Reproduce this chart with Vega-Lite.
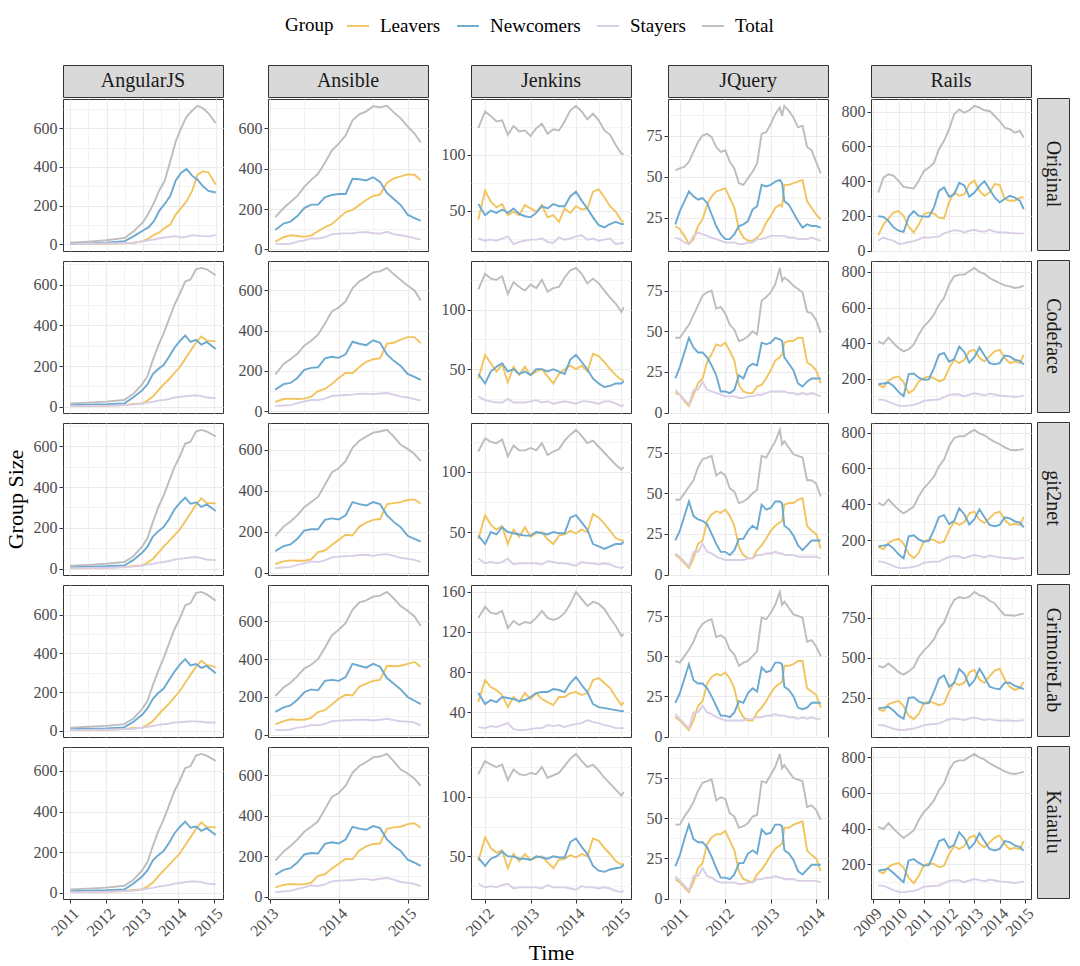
{
"$schema":"https://vega.github.io/schema/vega-lite/v6.json",
"padding":{"left":3,"top":14,"right":5,"bottom":5},
"config":{
 "font":"Liberation Serif",
 "view":{"stroke":"#333333","strokeWidth":1},
 "axis":{"domain":false,"gridColor":"#EBEBEB","tickColor":"#333333","tickSize":4,"tickWidth":1,"labelColor":"#4D4D4D","labelFontSize":16,"labelPadding":2,"labelOverlap":false,"labelFlush":false,"labelBound":false,"titleFontSize":22,"titleColor":"#000000","titleFontWeight":"normal"},
 "line":{"strokeWidth":1.9},
 "range":{"category":["#F2C45E","#6AA9D1","#D9CDE8","#BDBDBD"]},
 "legend":{"orient":"none","legendX":222,"legendY":-51,"direction":"horizontal","titleOrient":"left","titleFontSize":19,"titleFontWeight":"normal","titleColor":"#000000","titlePadding":12,"labelFontSize":19,"labelColor":"#000000","labelOffset":10,"columnPadding":12,"symbolType":"stroke","symbolSize":484,"symbolStrokeWidth":2}
},
"spacing":-7,
"hconcat":[
{"spacing":11,"hconcat":[
 {"spacing":0,"vconcat":[
  {"width":160,"height":32,"view":{"fill":"#D9D9D9","stroke":"#333333"},"data":{"values":[{"label":"AngularJS"}]},"mark":{"type":"text","fontSize":20,"color":"#1A1A1A"},"encoding":{"text":{"field":"label","type":"nominal"}}},
  {"spacing":10,"bounds":"flush","vconcat":[
   {"width":160,"height":152,"data":{"name":"AngularJS_Original"},"transform":[{"fold":["Leavers","Newcomers","Stayers","Total"],"as":["Group","Size"]}],"mark":"line","encoding":{"x":{"field":"t","type":"quantitative","scale":{"zero":false,"nice":false,"padding":7.3},"axis":{"values":[2011,2011.5,2012,2012.5,2013,2013.5,2014,2014.5,2015],"labels":false,"ticks":false,"title":null,"gridWidth":{"condition":{"test":"datum.value % 1 != 0","value":0.6},"value":1.1}}},"y":{"field":"Size","type":"quantitative","scale":{"zero":false,"nice":false,"padding":6.9},"axis":{"values":[0,100,200,300,400,500,600,700],"title":null,"format":"d","labelExpr":"datum.value % 200 ? '' : datum.label","tickOpacity":{"condition":{"test":"datum.value % 200 != 0","value":0},"value":1},"gridWidth":{"condition":{"test":"datum.value % 200 != 0","value":0.6},"value":1.1}}},"color":{"field":"Group","type":"nominal","title":"Group"}}},
   {"width":160,"height":152,"data":{"name":"AngularJS_Codeface"},"transform":[{"fold":["Leavers","Newcomers","Stayers","Total"],"as":["Group","Size"]}],"mark":"line","encoding":{"x":{"field":"t","type":"quantitative","scale":{"zero":false,"nice":false,"padding":7.3},"axis":{"values":[2011,2011.5,2012,2012.5,2013,2013.5,2014,2014.5,2015],"labels":false,"ticks":false,"title":null,"gridWidth":{"condition":{"test":"datum.value % 1 != 0","value":0.6},"value":1.1}}},"y":{"field":"Size","type":"quantitative","scale":{"zero":false,"nice":false,"padding":6.9},"axis":{"values":[0,100,200,300,400,500,600,700],"title":null,"format":"d","labelExpr":"datum.value % 200 ? '' : datum.label","tickOpacity":{"condition":{"test":"datum.value % 200 != 0","value":0},"value":1},"gridWidth":{"condition":{"test":"datum.value % 200 != 0","value":0.6},"value":1.1}}},"color":{"field":"Group","type":"nominal","title":"Group"}}},
   {"width":160,"height":152,"data":{"name":"AngularJS_git2net"},"transform":[{"fold":["Leavers","Newcomers","Stayers","Total"],"as":["Group","Size"]}],"mark":"line","encoding":{"x":{"field":"t","type":"quantitative","scale":{"zero":false,"nice":false,"padding":7.3},"axis":{"values":[2011,2011.5,2012,2012.5,2013,2013.5,2014,2014.5,2015],"labels":false,"ticks":false,"title":null,"gridWidth":{"condition":{"test":"datum.value % 1 != 0","value":0.6},"value":1.1}}},"y":{"field":"Size","type":"quantitative","scale":{"zero":false,"nice":false,"padding":6.9},"axis":{"values":[0,100,200,300,400,500,600,700],"title":"Group Size","titlePadding":6,"format":"d","labelExpr":"datum.value % 200 ? '' : datum.label","tickOpacity":{"condition":{"test":"datum.value % 200 != 0","value":0},"value":1},"gridWidth":{"condition":{"test":"datum.value % 200 != 0","value":0.6},"value":1.1}}},"color":{"field":"Group","type":"nominal","title":"Group"}}},
   {"width":160,"height":152,"data":{"name":"AngularJS_GrimoireLab"},"transform":[{"fold":["Leavers","Newcomers","Stayers","Total"],"as":["Group","Size"]}],"mark":"line","encoding":{"x":{"field":"t","type":"quantitative","scale":{"zero":false,"nice":false,"padding":7.3},"axis":{"values":[2011,2011.5,2012,2012.5,2013,2013.5,2014,2014.5,2015],"labels":false,"ticks":false,"title":null,"gridWidth":{"condition":{"test":"datum.value % 1 != 0","value":0.6},"value":1.1}}},"y":{"field":"Size","type":"quantitative","scale":{"zero":false,"nice":false,"padding":6.9},"axis":{"values":[0,100,200,300,400,500,600,700],"title":null,"format":"d","labelExpr":"datum.value % 200 ? '' : datum.label","tickOpacity":{"condition":{"test":"datum.value % 200 != 0","value":0},"value":1},"gridWidth":{"condition":{"test":"datum.value % 200 != 0","value":0.6},"value":1.1}}},"color":{"field":"Group","type":"nominal","title":"Group"}}},
   {"width":160,"height":152,"data":{"name":"AngularJS_Kaiaulu"},"transform":[{"fold":["Leavers","Newcomers","Stayers","Total"],"as":["Group","Size"]}],"mark":"line","encoding":{"x":{"field":"t","type":"quantitative","scale":{"zero":false,"nice":false,"padding":7.3},"axis":{"values":[2011,2011.5,2012,2012.5,2013,2013.5,2014,2014.5,2015],"format":"d","labelExpr":"datum.value % 1 ? '' : datum.label","labelAngle":-45,"labelAlign":"right","labelBaseline":"top","title":null,"tickOpacity":{"condition":{"test":"datum.value % 1 != 0","value":0},"value":1},"gridWidth":{"condition":{"test":"datum.value % 1 != 0","value":0.6},"value":1.1}}},"y":{"field":"Size","type":"quantitative","scale":{"zero":false,"nice":false,"padding":6.9},"axis":{"values":[0,100,200,300,400,500,600,700],"title":null,"format":"d","labelExpr":"datum.value % 200 ? '' : datum.label","tickOpacity":{"condition":{"test":"datum.value % 200 != 0","value":0},"value":1},"gridWidth":{"condition":{"test":"datum.value % 200 != 0","value":0.6},"value":1.1}}},"color":{"field":"Group","type":"nominal","title":"Group"}}}
  ]}
 ]},
 {"spacing":0,"vconcat":[
  {"width":160,"height":32,"view":{"fill":"#D9D9D9","stroke":"#333333"},"data":{"values":[{"label":"Ansible"}]},"mark":{"type":"text","fontSize":20,"color":"#1A1A1A"},"encoding":{"text":{"field":"label","type":"nominal"}}},
  {"spacing":10,"bounds":"flush","vconcat":[
   {"width":160,"height":152,"data":{"name":"Ansible_Original"},"transform":[{"fold":["Leavers","Newcomers","Stayers","Total"],"as":["Group","Size"]}],"mark":"line","encoding":{"x":{"field":"t","type":"quantitative","scale":{"zero":false,"nice":false,"padding":7.3},"axis":{"values":[2013,2013.5,2014,2014.5,2015],"labels":false,"ticks":false,"title":null,"gridWidth":{"condition":{"test":"datum.value % 1 != 0","value":0.6},"value":1.1}}},"y":{"field":"Size","type":"quantitative","scale":{"zero":false,"nice":false,"padding":6.9},"axis":{"values":[0,100,200,300,400,500,600,700],"title":null,"format":"d","labelExpr":"datum.value % 200 ? '' : datum.label","tickOpacity":{"condition":{"test":"datum.value % 200 != 0","value":0},"value":1},"gridWidth":{"condition":{"test":"datum.value % 200 != 0","value":0.6},"value":1.1}}},"color":{"field":"Group","type":"nominal","title":"Group"}}},
   {"width":160,"height":152,"data":{"name":"Ansible_Codeface"},"transform":[{"fold":["Leavers","Newcomers","Stayers","Total"],"as":["Group","Size"]}],"mark":"line","encoding":{"x":{"field":"t","type":"quantitative","scale":{"zero":false,"nice":false,"padding":7.3},"axis":{"values":[2013,2013.5,2014,2014.5,2015],"labels":false,"ticks":false,"title":null,"gridWidth":{"condition":{"test":"datum.value % 1 != 0","value":0.6},"value":1.1}}},"y":{"field":"Size","type":"quantitative","scale":{"zero":false,"nice":false,"padding":6.9},"axis":{"values":[0,100,200,300,400,500,600,700],"title":null,"format":"d","labelExpr":"datum.value % 200 ? '' : datum.label","tickOpacity":{"condition":{"test":"datum.value % 200 != 0","value":0},"value":1},"gridWidth":{"condition":{"test":"datum.value % 200 != 0","value":0.6},"value":1.1}}},"color":{"field":"Group","type":"nominal","title":"Group"}}},
   {"width":160,"height":152,"data":{"name":"Ansible_git2net"},"transform":[{"fold":["Leavers","Newcomers","Stayers","Total"],"as":["Group","Size"]}],"mark":"line","encoding":{"x":{"field":"t","type":"quantitative","scale":{"zero":false,"nice":false,"padding":7.3},"axis":{"values":[2013,2013.5,2014,2014.5,2015],"labels":false,"ticks":false,"title":null,"gridWidth":{"condition":{"test":"datum.value % 1 != 0","value":0.6},"value":1.1}}},"y":{"field":"Size","type":"quantitative","scale":{"zero":false,"nice":false,"padding":6.9},"axis":{"values":[0,100,200,300,400,500,600,700],"title":null,"format":"d","labelExpr":"datum.value % 200 ? '' : datum.label","tickOpacity":{"condition":{"test":"datum.value % 200 != 0","value":0},"value":1},"gridWidth":{"condition":{"test":"datum.value % 200 != 0","value":0.6},"value":1.1}}},"color":{"field":"Group","type":"nominal","title":"Group"}}},
   {"width":160,"height":152,"data":{"name":"Ansible_GrimoireLab"},"transform":[{"fold":["Leavers","Newcomers","Stayers","Total"],"as":["Group","Size"]}],"mark":"line","encoding":{"x":{"field":"t","type":"quantitative","scale":{"zero":false,"nice":false,"padding":7.3},"axis":{"values":[2013,2013.5,2014,2014.5,2015],"labels":false,"ticks":false,"title":null,"gridWidth":{"condition":{"test":"datum.value % 1 != 0","value":0.6},"value":1.1}}},"y":{"field":"Size","type":"quantitative","scale":{"zero":false,"nice":false,"padding":6.9},"axis":{"values":[0,100,200,300,400,500,600,700],"title":null,"format":"d","labelExpr":"datum.value % 200 ? '' : datum.label","tickOpacity":{"condition":{"test":"datum.value % 200 != 0","value":0},"value":1},"gridWidth":{"condition":{"test":"datum.value % 200 != 0","value":0.6},"value":1.1}}},"color":{"field":"Group","type":"nominal","title":"Group"}}},
   {"width":160,"height":152,"data":{"name":"Ansible_Kaiaulu"},"transform":[{"fold":["Leavers","Newcomers","Stayers","Total"],"as":["Group","Size"]}],"mark":"line","encoding":{"x":{"field":"t","type":"quantitative","scale":{"zero":false,"nice":false,"padding":7.3},"axis":{"values":[2013,2013.5,2014,2014.5,2015],"format":"d","labelExpr":"datum.value % 1 ? '' : datum.label","labelAngle":-45,"labelAlign":"right","labelBaseline":"top","title":null,"tickOpacity":{"condition":{"test":"datum.value % 1 != 0","value":0},"value":1},"gridWidth":{"condition":{"test":"datum.value % 1 != 0","value":0.6},"value":1.1}}},"y":{"field":"Size","type":"quantitative","scale":{"zero":false,"nice":false,"padding":6.9},"axis":{"values":[0,100,200,300,400,500,600,700],"title":null,"format":"d","labelExpr":"datum.value % 200 ? '' : datum.label","tickOpacity":{"condition":{"test":"datum.value % 200 != 0","value":0},"value":1},"gridWidth":{"condition":{"test":"datum.value % 200 != 0","value":0.6},"value":1.1}}},"color":{"field":"Group","type":"nominal","title":"Group"}}}
  ]}
 ]},
 {"spacing":0,"vconcat":[
  {"width":160,"height":32,"view":{"fill":"#D9D9D9","stroke":"#333333"},"data":{"values":[{"label":"Jenkins"}]},"mark":{"type":"text","fontSize":20,"color":"#1A1A1A"},"encoding":{"text":{"field":"label","type":"nominal"}}},
  {"spacing":10,"bounds":"flush","vconcat":[
   {"width":160,"height":152,"data":{"name":"Jenkins_Original"},"transform":[{"fold":["Leavers","Newcomers","Stayers","Total"],"as":["Group","Size"]}],"mark":"line","encoding":{"x":{"field":"t","type":"quantitative","scale":{"zero":false,"nice":false,"padding":7.3},"axis":{"values":[2012,2012.5,2013,2013.5,2014,2014.5,2015],"labels":false,"ticks":false,"title":null,"gridWidth":{"condition":{"test":"datum.value % 1 != 0","value":0.6},"value":1.1}}},"y":{"field":"Size","type":"quantitative","scale":{"zero":false,"nice":false,"padding":6.9},"axis":{"values":[25,50,75,100,125],"title":null,"format":"d","labelExpr":"datum.value % 50 ? '' : datum.label","tickOpacity":{"condition":{"test":"datum.value % 50 != 0","value":0},"value":1},"gridWidth":{"condition":{"test":"datum.value % 50 != 0","value":0.6},"value":1.1}}},"color":{"field":"Group","type":"nominal","title":"Group"}}},
   {"width":160,"height":152,"data":{"name":"Jenkins_Codeface"},"transform":[{"fold":["Leavers","Newcomers","Stayers","Total"],"as":["Group","Size"]}],"mark":"line","encoding":{"x":{"field":"t","type":"quantitative","scale":{"zero":false,"nice":false,"padding":7.3},"axis":{"values":[2012,2012.5,2013,2013.5,2014,2014.5,2015],"labels":false,"ticks":false,"title":null,"gridWidth":{"condition":{"test":"datum.value % 1 != 0","value":0.6},"value":1.1}}},"y":{"field":"Size","type":"quantitative","scale":{"zero":false,"nice":false,"padding":6.9},"axis":{"values":[25,50,75,100,125],"title":null,"format":"d","labelExpr":"datum.value % 50 ? '' : datum.label","tickOpacity":{"condition":{"test":"datum.value % 50 != 0","value":0},"value":1},"gridWidth":{"condition":{"test":"datum.value % 50 != 0","value":0.6},"value":1.1}}},"color":{"field":"Group","type":"nominal","title":"Group"}}},
   {"width":160,"height":152,"data":{"name":"Jenkins_git2net"},"transform":[{"fold":["Leavers","Newcomers","Stayers","Total"],"as":["Group","Size"]}],"mark":"line","encoding":{"x":{"field":"t","type":"quantitative","scale":{"zero":false,"nice":false,"padding":7.3},"axis":{"values":[2012,2012.5,2013,2013.5,2014,2014.5,2015],"labels":false,"ticks":false,"title":null,"gridWidth":{"condition":{"test":"datum.value % 1 != 0","value":0.6},"value":1.1}}},"y":{"field":"Size","type":"quantitative","scale":{"zero":false,"nice":false,"padding":6.9},"axis":{"values":[25,50,75,100,125],"title":null,"format":"d","labelExpr":"datum.value % 50 ? '' : datum.label","tickOpacity":{"condition":{"test":"datum.value % 50 != 0","value":0},"value":1},"gridWidth":{"condition":{"test":"datum.value % 50 != 0","value":0.6},"value":1.1}}},"color":{"field":"Group","type":"nominal","title":"Group"}}},
   {"width":160,"height":152,"data":{"name":"Jenkins_GrimoireLab"},"transform":[{"fold":["Leavers","Newcomers","Stayers","Total"],"as":["Group","Size"]}],"mark":"line","encoding":{"x":{"field":"t","type":"quantitative","scale":{"zero":false,"nice":false,"padding":7.3},"axis":{"values":[2012,2012.5,2013,2013.5,2014,2014.5,2015],"labels":false,"ticks":false,"title":null,"gridWidth":{"condition":{"test":"datum.value % 1 != 0","value":0.6},"value":1.1}}},"y":{"field":"Size","type":"quantitative","scale":{"zero":false,"nice":false,"padding":6.9},"axis":{"values":[20,40,60,80,100,120,140,160],"title":null,"format":"d","labelExpr":"datum.value % 40 ? '' : datum.label","tickOpacity":{"condition":{"test":"datum.value % 40 != 0","value":0},"value":1},"gridWidth":{"condition":{"test":"datum.value % 40 != 0","value":0.6},"value":1.1}}},"color":{"field":"Group","type":"nominal","title":"Group"}}},
   {"width":160,"height":152,"data":{"name":"Jenkins_Kaiaulu"},"transform":[{"fold":["Leavers","Newcomers","Stayers","Total"],"as":["Group","Size"]}],"mark":"line","encoding":{"x":{"field":"t","type":"quantitative","scale":{"zero":false,"nice":false,"padding":7.3},"axis":{"values":[2012,2012.5,2013,2013.5,2014,2014.5,2015],"format":"d","labelExpr":"datum.value % 1 ? '' : datum.label","labelAngle":-45,"labelAlign":"right","labelBaseline":"top","title":"Time","titlePadding":4,"tickOpacity":{"condition":{"test":"datum.value % 1 != 0","value":0},"value":1},"gridWidth":{"condition":{"test":"datum.value % 1 != 0","value":0.6},"value":1.1}}},"y":{"field":"Size","type":"quantitative","scale":{"zero":false,"nice":false,"padding":6.9},"axis":{"values":[25,50,75,100,125],"title":null,"format":"d","labelExpr":"datum.value % 50 ? '' : datum.label","tickOpacity":{"condition":{"test":"datum.value % 50 != 0","value":0},"value":1},"gridWidth":{"condition":{"test":"datum.value % 50 != 0","value":0.6},"value":1.1}}},"color":{"field":"Group","type":"nominal","title":"Group"}}}
  ]}
 ]},
 {"spacing":0,"vconcat":[
  {"width":160,"height":32,"view":{"fill":"#D9D9D9","stroke":"#333333"},"data":{"values":[{"label":"JQuery"}]},"mark":{"type":"text","fontSize":20,"color":"#1A1A1A"},"encoding":{"text":{"field":"label","type":"nominal"}}},
  {"spacing":10,"bounds":"flush","vconcat":[
   {"width":160,"height":152,"data":{"name":"JQuery_Original"},"transform":[{"fold":["Leavers","Newcomers","Stayers","Total"],"as":["Group","Size"]}],"mark":"line","encoding":{"x":{"field":"t","type":"quantitative","scale":{"zero":false,"nice":false,"padding":7.3},"axis":{"values":[2011,2011.5,2012,2012.5,2013,2013.5,2014],"labels":false,"ticks":false,"title":null,"gridWidth":{"condition":{"test":"datum.value % 1 != 0","value":0.6},"value":1.1}}},"y":{"field":"Size","type":"quantitative","scale":{"zero":false,"nice":false,"padding":6.9},"axis":{"values":[12.5,25,37.5,50,62.5,75,87.5],"title":null,"format":"d","labelExpr":"datum.value % 25 ? '' : datum.label","tickOpacity":{"condition":{"test":"datum.value % 25 != 0","value":0},"value":1},"gridWidth":{"condition":{"test":"datum.value % 25 != 0","value":0.6},"value":1.1}}},"color":{"field":"Group","type":"nominal","title":"Group"}}},
   {"width":160,"height":152,"data":{"name":"JQuery_Codeface"},"transform":[{"fold":["Leavers","Newcomers","Stayers","Total"],"as":["Group","Size"]}],"mark":"line","encoding":{"x":{"field":"t","type":"quantitative","scale":{"zero":false,"nice":false,"padding":7.3},"axis":{"values":[2011,2011.5,2012,2012.5,2013,2013.5,2014],"labels":false,"ticks":false,"title":null,"gridWidth":{"condition":{"test":"datum.value % 1 != 0","value":0.6},"value":1.1}}},"y":{"field":"Size","type":"quantitative","scale":{"zero":false,"nice":false,"padding":6.9},"axis":{"values":[0,12.5,25,37.5,50,62.5,75,87.5],"title":null,"format":"d","labelExpr":"datum.value % 25 ? '' : datum.label","tickOpacity":{"condition":{"test":"datum.value % 25 != 0","value":0},"value":1},"gridWidth":{"condition":{"test":"datum.value % 25 != 0","value":0.6},"value":1.1}}},"color":{"field":"Group","type":"nominal","title":"Group"}}},
   {"width":160,"height":152,"data":{"name":"JQuery_git2net"},"transform":[{"fold":["Leavers","Newcomers","Stayers","Total"],"as":["Group","Size"]}],"mark":"line","encoding":{"x":{"field":"t","type":"quantitative","scale":{"zero":false,"nice":false,"padding":7.3},"axis":{"values":[2011,2011.5,2012,2012.5,2013,2013.5,2014],"labels":false,"ticks":false,"title":null,"gridWidth":{"condition":{"test":"datum.value % 1 != 0","value":0.6},"value":1.1}}},"y":{"field":"Size","type":"quantitative","scale":{"zero":false,"nice":false,"padding":6.9},"axis":{"values":[0,12.5,25,37.5,50,62.5,75,87.5],"title":null,"format":"d","labelExpr":"datum.value % 25 ? '' : datum.label","tickOpacity":{"condition":{"test":"datum.value % 25 != 0","value":0},"value":1},"gridWidth":{"condition":{"test":"datum.value % 25 != 0","value":0.6},"value":1.1}}},"color":{"field":"Group","type":"nominal","title":"Group"}}},
   {"width":160,"height":152,"data":{"name":"JQuery_GrimoireLab"},"transform":[{"fold":["Leavers","Newcomers","Stayers","Total"],"as":["Group","Size"]}],"mark":"line","encoding":{"x":{"field":"t","type":"quantitative","scale":{"zero":false,"nice":false,"padding":7.3},"axis":{"values":[2011,2011.5,2012,2012.5,2013,2013.5,2014],"labels":false,"ticks":false,"title":null,"gridWidth":{"condition":{"test":"datum.value % 1 != 0","value":0.6},"value":1.1}}},"y":{"field":"Size","type":"quantitative","scale":{"zero":false,"nice":false,"padding":6.9},"axis":{"values":[0,12.5,25,37.5,50,62.5,75,87.5],"title":null,"format":"d","labelExpr":"datum.value % 25 ? '' : datum.label","tickOpacity":{"condition":{"test":"datum.value % 25 != 0","value":0},"value":1},"gridWidth":{"condition":{"test":"datum.value % 25 != 0","value":0.6},"value":1.1}}},"color":{"field":"Group","type":"nominal","title":"Group"}}},
   {"width":160,"height":152,"data":{"name":"JQuery_Kaiaulu"},"transform":[{"fold":["Leavers","Newcomers","Stayers","Total"],"as":["Group","Size"]}],"mark":"line","encoding":{"x":{"field":"t","type":"quantitative","scale":{"zero":false,"nice":false,"padding":7.3},"axis":{"values":[2011,2011.5,2012,2012.5,2013,2013.5,2014],"format":"d","labelExpr":"datum.value % 1 ? '' : datum.label","labelAngle":-45,"labelAlign":"right","labelBaseline":"top","title":null,"tickOpacity":{"condition":{"test":"datum.value % 1 != 0","value":0},"value":1},"gridWidth":{"condition":{"test":"datum.value % 1 != 0","value":0.6},"value":1.1}}},"y":{"field":"Size","type":"quantitative","scale":{"zero":false,"nice":false,"padding":6.9},"axis":{"values":[0,12.5,25,37.5,50,62.5,75,87.5],"title":null,"format":"d","labelExpr":"datum.value % 25 ? '' : datum.label","tickOpacity":{"condition":{"test":"datum.value % 25 != 0","value":0},"value":1},"gridWidth":{"condition":{"test":"datum.value % 25 != 0","value":0.6},"value":1.1}}},"color":{"field":"Group","type":"nominal","title":"Group"}}}
  ]}
 ]},
 {"spacing":0,"vconcat":[
  {"width":160,"height":32,"view":{"fill":"#D9D9D9","stroke":"#333333"},"data":{"values":[{"label":"Rails"}]},"mark":{"type":"text","fontSize":20,"color":"#1A1A1A"},"encoding":{"text":{"field":"label","type":"nominal"}}},
  {"spacing":10,"bounds":"flush","vconcat":[
   {"width":160,"height":152,"data":{"name":"Rails_Original"},"transform":[{"fold":["Leavers","Newcomers","Stayers","Total"],"as":["Group","Size"]}],"mark":"line","encoding":{"x":{"field":"t","type":"quantitative","scale":{"zero":false,"nice":false,"padding":7.3},"axis":{"values":[2009,2009.5,2010,2010.5,2011,2011.5,2012,2012.5,2013,2013.5,2014,2014.5,2015],"labels":false,"ticks":false,"title":null,"gridWidth":{"condition":{"test":"datum.value % 1 != 0","value":0.6},"value":1.1}}},"y":{"field":"Size","type":"quantitative","scale":{"zero":false,"nice":false,"padding":6.9},"axis":{"values":[0,100,200,300,400,500,600,700,800],"title":null,"format":"d","labelExpr":"datum.value % 200 ? '' : datum.label","tickOpacity":{"condition":{"test":"datum.value % 200 != 0","value":0},"value":1},"gridWidth":{"condition":{"test":"datum.value % 200 != 0","value":0.6},"value":1.1}}},"color":{"field":"Group","type":"nominal","title":"Group"}}},
   {"width":160,"height":152,"data":{"name":"Rails_Codeface"},"transform":[{"fold":["Leavers","Newcomers","Stayers","Total"],"as":["Group","Size"]}],"mark":"line","encoding":{"x":{"field":"t","type":"quantitative","scale":{"zero":false,"nice":false,"padding":7.3},"axis":{"values":[2009,2009.5,2010,2010.5,2011,2011.5,2012,2012.5,2013,2013.5,2014,2014.5,2015],"labels":false,"ticks":false,"title":null,"gridWidth":{"condition":{"test":"datum.value % 1 != 0","value":0.6},"value":1.1}}},"y":{"field":"Size","type":"quantitative","scale":{"zero":false,"nice":false,"padding":6.9},"axis":{"values":[100,200,300,400,500,600,700,800],"title":null,"format":"d","labelExpr":"datum.value % 200 ? '' : datum.label","tickOpacity":{"condition":{"test":"datum.value % 200 != 0","value":0},"value":1},"gridWidth":{"condition":{"test":"datum.value % 200 != 0","value":0.6},"value":1.1}}},"color":{"field":"Group","type":"nominal","title":"Group"}}},
   {"width":160,"height":152,"data":{"name":"Rails_git2net"},"transform":[{"fold":["Leavers","Newcomers","Stayers","Total"],"as":["Group","Size"]}],"mark":"line","encoding":{"x":{"field":"t","type":"quantitative","scale":{"zero":false,"nice":false,"padding":7.3},"axis":{"values":[2009,2009.5,2010,2010.5,2011,2011.5,2012,2012.5,2013,2013.5,2014,2014.5,2015],"labels":false,"ticks":false,"title":null,"gridWidth":{"condition":{"test":"datum.value % 1 != 0","value":0.6},"value":1.1}}},"y":{"field":"Size","type":"quantitative","scale":{"zero":false,"nice":false,"padding":6.9},"axis":{"values":[100,200,300,400,500,600,700,800],"title":null,"format":"d","labelExpr":"datum.value % 200 ? '' : datum.label","tickOpacity":{"condition":{"test":"datum.value % 200 != 0","value":0},"value":1},"gridWidth":{"condition":{"test":"datum.value % 200 != 0","value":0.6},"value":1.1}}},"color":{"field":"Group","type":"nominal","title":"Group"}}},
   {"width":160,"height":152,"data":{"name":"Rails_GrimoireLab"},"transform":[{"fold":["Leavers","Newcomers","Stayers","Total"],"as":["Group","Size"]}],"mark":"line","encoding":{"x":{"field":"t","type":"quantitative","scale":{"zero":false,"nice":false,"padding":7.3},"axis":{"values":[2009,2009.5,2010,2010.5,2011,2011.5,2012,2012.5,2013,2013.5,2014,2014.5,2015],"labels":false,"ticks":false,"title":null,"gridWidth":{"condition":{"test":"datum.value % 1 != 0","value":0.6},"value":1.1}}},"y":{"field":"Size","type":"quantitative","scale":{"zero":false,"nice":false,"padding":6.9},"axis":{"values":[125,250,375,500,625,750,875],"title":null,"format":"d","labelExpr":"datum.value % 250 ? '' : datum.label","tickOpacity":{"condition":{"test":"datum.value % 250 != 0","value":0},"value":1},"gridWidth":{"condition":{"test":"datum.value % 250 != 0","value":0.6},"value":1.1}}},"color":{"field":"Group","type":"nominal","title":"Group"}}},
   {"width":160,"height":152,"data":{"name":"Rails_Kaiaulu"},"transform":[{"fold":["Leavers","Newcomers","Stayers","Total"],"as":["Group","Size"]}],"mark":"line","encoding":{"x":{"field":"t","type":"quantitative","scale":{"zero":false,"nice":false,"padding":7.3},"axis":{"values":[2009,2009.5,2010,2010.5,2011,2011.5,2012,2012.5,2013,2013.5,2014,2014.5,2015],"format":"d","labelExpr":"datum.value % 1 ? '' : datum.label","labelAngle":-45,"labelAlign":"right","labelBaseline":"top","title":null,"tickOpacity":{"condition":{"test":"datum.value % 1 != 0","value":0},"value":1},"gridWidth":{"condition":{"test":"datum.value % 1 != 0","value":0.6},"value":1.1}}},"y":{"field":"Size","type":"quantitative","scale":{"zero":false,"nice":false,"padding":6.9},"axis":{"values":[100,200,300,400,500,600,700,800],"title":null,"format":"d","labelExpr":"datum.value % 200 ? '' : datum.label","tickOpacity":{"condition":{"test":"datum.value % 200 != 0","value":0},"value":1},"gridWidth":{"condition":{"test":"datum.value % 200 != 0","value":0.6},"value":1.1}}},"color":{"field":"Group","type":"nominal","title":"Group"}}}
  ]}
 ]}
]},
{"spacing":0,"vconcat":[
 {"width":32,"height":32,"view":{"stroke":null},"data":{"values":[{"label":""}]},"mark":{"type":"text","fontSize":20},"encoding":{"text":{"field":"label","type":"nominal"}}},
 {"spacing":10,"bounds":"flush","vconcat":[
  {"width":32,"height":152,"view":{"fill":"#D9D9D9","stroke":"#333333"},"data":{"values":[{"label":"Original"}]},"mark":{"type":"text","fontSize":20,"color":"#1A1A1A","angle":90},"encoding":{"text":{"field":"label","type":"nominal"}}},
  {"width":32,"height":152,"view":{"fill":"#D9D9D9","stroke":"#333333"},"data":{"values":[{"label":"Codeface"}]},"mark":{"type":"text","fontSize":20,"color":"#1A1A1A","angle":90},"encoding":{"text":{"field":"label","type":"nominal"}}},
  {"width":32,"height":152,"view":{"fill":"#D9D9D9","stroke":"#333333"},"data":{"values":[{"label":"git2net"}]},"mark":{"type":"text","fontSize":20,"color":"#1A1A1A","angle":90},"encoding":{"text":{"field":"label","type":"nominal"}}},
  {"width":32,"height":152,"view":{"fill":"#D9D9D9","stroke":"#333333"},"data":{"values":[{"label":"GrimoireLab"}]},"mark":{"type":"text","fontSize":20,"color":"#1A1A1A","angle":90},"encoding":{"text":{"field":"label","type":"nominal"}}},
  {"width":32,"height":152,"view":{"fill":"#D9D9D9","stroke":"#333333"},"data":{"values":[{"label":"Kaiaulu"}]},"mark":{"type":"text","fontSize":20,"color":"#1A1A1A","angle":90},"encoding":{"text":{"field":"label","type":"nominal"}}}
 ]}
]}
],
"datasets":{
"AngularJS_Original":[
{"t":2011,"Leavers":2,"Newcomers":4,"Stayers":3,"Total":9},
{"t":2011.5,"Leavers":2,"Newcomers":6,"Stayers":4,"Total":15},
{"t":2012,"Leavers":3,"Newcomers":9,"Stayers":5,"Total":22},
{"t":2012.5,"Leavers":6,"Newcomers":17,"Stayers":7,"Total":34},
{"t":2012.75,"Leavers":9,"Newcomers":43,"Stayers":9,"Total":69},
{"t":2013,"Leavers":17,"Newcomers":72,"Stayers":17,"Total":115},
{"t":2013.15,"Leavers":30,"Newcomers":88,"Stayers":22,"Total":160},
{"t":2013.3,"Leavers":50,"Newcomers":120,"Stayers":26,"Total":215},
{"t":2013.45,"Leavers":62,"Newcomers":175,"Stayers":32,"Total":280},
{"t":2013.6,"Leavers":86,"Newcomers":210,"Stayers":36,"Total":330},
{"t":2013.75,"Leavers":103,"Newcomers":250,"Stayers":40,"Total":429},
{"t":2013.9,"Leavers":154,"Newcomers":330,"Stayers":43,"Total":531},
{"t":2014.05,"Leavers":189,"Newcomers":370,"Stayers":36,"Total":600},
{"t":2014.2,"Leavers":223,"Newcomers":389,"Stayers":40,"Total":660},
{"t":2014.35,"Leavers":275,"Newcomers":355,"Stayers":48,"Total":690},
{"t":2014.5,"Leavers":360,"Newcomers":334,"Stayers":46,"Total":715},
{"t":2014.65,"Leavers":377,"Newcomers":300,"Stayers":43,"Total":703},
{"t":2014.8,"Leavers":372,"Newcomers":276,"Stayers":42,"Total":677},
{"t":2015,"Leavers":309,"Newcomers":268,"Stayers":48,"Total":626}],
"AngularJS_Codeface":[
{"t":2011,"Leavers":3,"Newcomers":8,"Stayers":3,"Total":16},
{"t":2011.5,"Leavers":3,"Newcomers":10,"Stayers":4,"Total":20},
{"t":2012,"Leavers":4,"Newcomers":12,"Stayers":5,"Total":25},
{"t":2012.5,"Leavers":8,"Newcomers":16,"Stayers":8,"Total":33},
{"t":2012.75,"Leavers":14,"Newcomers":45,"Stayers":10,"Total":62},
{"t":2013,"Leavers":16,"Newcomers":80,"Stayers":16,"Total":110},
{"t":2013.15,"Leavers":30,"Newcomers":110,"Stayers":20,"Total":150},
{"t":2013.3,"Leavers":50,"Newcomers":160,"Stayers":24,"Total":230},
{"t":2013.45,"Leavers":80,"Newcomers":185,"Stayers":30,"Total":300},
{"t":2013.6,"Leavers":110,"Newcomers":205,"Stayers":33,"Total":360},
{"t":2013.75,"Leavers":135,"Newcomers":245,"Stayers":38,"Total":430},
{"t":2013.9,"Leavers":165,"Newcomers":290,"Stayers":45,"Total":500},
{"t":2014.05,"Leavers":195,"Newcomers":322,"Stayers":48,"Total":555},
{"t":2014.2,"Leavers":235,"Newcomers":350,"Stayers":52,"Total":615},
{"t":2014.35,"Leavers":275,"Newcomers":318,"Stayers":54,"Total":625},
{"t":2014.5,"Leavers":315,"Newcomers":328,"Stayers":56,"Total":675},
{"t":2014.65,"Leavers":345,"Newcomers":305,"Stayers":52,"Total":682},
{"t":2014.8,"Leavers":325,"Newcomers":318,"Stayers":45,"Total":675},
{"t":2015.05,"Leavers":321,"Newcomers":284,"Stayers":42,"Total":646}],
"AngularJS_git2net":[
{"t":2011,"Leavers":3,"Newcomers":8,"Stayers":3,"Total":15},
{"t":2011.5,"Leavers":3,"Newcomers":10,"Stayers":4,"Total":19},
{"t":2012,"Leavers":4,"Newcomers":12,"Stayers":5,"Total":24},
{"t":2012.5,"Leavers":8,"Newcomers":16,"Stayers":8,"Total":33},
{"t":2012.75,"Leavers":14,"Newcomers":42,"Stayers":10,"Total":60},
{"t":2013,"Leavers":16,"Newcomers":78,"Stayers":16,"Total":108},
{"t":2013.15,"Leavers":30,"Newcomers":108,"Stayers":20,"Total":150},
{"t":2013.3,"Leavers":48,"Newcomers":158,"Stayers":24,"Total":228},
{"t":2013.45,"Leavers":78,"Newcomers":183,"Stayers":30,"Total":300},
{"t":2013.6,"Leavers":108,"Newcomers":205,"Stayers":33,"Total":358},
{"t":2013.75,"Leavers":135,"Newcomers":242,"Stayers":38,"Total":428},
{"t":2013.9,"Leavers":163,"Newcomers":290,"Stayers":45,"Total":498},
{"t":2014.05,"Leavers":192,"Newcomers":322,"Stayers":48,"Total":550},
{"t":2014.2,"Leavers":232,"Newcomers":348,"Stayers":52,"Total":612},
{"t":2014.35,"Leavers":272,"Newcomers":318,"Stayers":55,"Total":622},
{"t":2014.5,"Leavers":312,"Newcomers":325,"Stayers":57,"Total":672},
{"t":2014.65,"Leavers":345,"Newcomers":303,"Stayers":52,"Total":680},
{"t":2014.8,"Leavers":322,"Newcomers":315,"Stayers":45,"Total":672},
{"t":2015.05,"Leavers":320,"Newcomers":283,"Stayers":42,"Total":648}],
"AngularJS_GrimoireLab":[
{"t":2011,"Leavers":3,"Newcomers":8,"Stayers":3,"Total":16},
{"t":2011.5,"Leavers":3,"Newcomers":10,"Stayers":4,"Total":20},
{"t":2012,"Leavers":4,"Newcomers":12,"Stayers":5,"Total":25},
{"t":2012.5,"Leavers":8,"Newcomers":17,"Stayers":8,"Total":34},
{"t":2012.75,"Leavers":14,"Newcomers":45,"Stayers":10,"Total":62},
{"t":2013,"Leavers":16,"Newcomers":82,"Stayers":15,"Total":112},
{"t":2013.15,"Leavers":30,"Newcomers":115,"Stayers":20,"Total":155},
{"t":2013.3,"Leavers":50,"Newcomers":165,"Stayers":24,"Total":235},
{"t":2013.45,"Leavers":82,"Newcomers":195,"Stayers":30,"Total":310},
{"t":2013.6,"Leavers":112,"Newcomers":218,"Stayers":33,"Total":375},
{"t":2013.75,"Leavers":140,"Newcomers":262,"Stayers":37,"Total":450},
{"t":2013.9,"Leavers":172,"Newcomers":305,"Stayers":42,"Total":525},
{"t":2014.05,"Leavers":205,"Newcomers":342,"Stayers":44,"Total":580},
{"t":2014.2,"Leavers":248,"Newcomers":370,"Stayers":46,"Total":648},
{"t":2014.35,"Leavers":290,"Newcomers":338,"Stayers":48,"Total":660},
{"t":2014.5,"Leavers":330,"Newcomers":345,"Stayers":48,"Total":712},
{"t":2014.65,"Leavers":362,"Newcomers":325,"Stayers":46,"Total":718},
{"t":2014.8,"Leavers":340,"Newcomers":335,"Stayers":42,"Total":705},
{"t":2015.05,"Leavers":329,"Newcomers":297,"Stayers":42,"Total":673}],
"AngularJS_Kaiaulu":[
{"t":2011,"Leavers":3,"Newcomers":8,"Stayers":3,"Total":16},
{"t":2011.5,"Leavers":3,"Newcomers":10,"Stayers":4,"Total":20},
{"t":2012,"Leavers":4,"Newcomers":12,"Stayers":5,"Total":25},
{"t":2012.5,"Leavers":8,"Newcomers":16,"Stayers":8,"Total":34},
{"t":2012.75,"Leavers":14,"Newcomers":44,"Stayers":10,"Total":62},
{"t":2013,"Leavers":16,"Newcomers":80,"Stayers":16,"Total":110},
{"t":2013.15,"Leavers":30,"Newcomers":110,"Stayers":20,"Total":152},
{"t":2013.3,"Leavers":50,"Newcomers":160,"Stayers":24,"Total":230},
{"t":2013.45,"Leavers":80,"Newcomers":185,"Stayers":30,"Total":302},
{"t":2013.6,"Leavers":110,"Newcomers":206,"Stayers":33,"Total":360},
{"t":2013.75,"Leavers":136,"Newcomers":245,"Stayers":38,"Total":430},
{"t":2013.9,"Leavers":165,"Newcomers":292,"Stayers":45,"Total":500},
{"t":2014.05,"Leavers":194,"Newcomers":324,"Stayers":48,"Total":553},
{"t":2014.2,"Leavers":234,"Newcomers":350,"Stayers":52,"Total":614},
{"t":2014.35,"Leavers":274,"Newcomers":320,"Stayers":55,"Total":624},
{"t":2014.5,"Leavers":314,"Newcomers":326,"Stayers":56,"Total":676},
{"t":2014.65,"Leavers":347,"Newcomers":305,"Stayers":52,"Total":684},
{"t":2014.8,"Leavers":324,"Newcomers":318,"Stayers":45,"Total":675},
{"t":2015.05,"Leavers":322,"Newcomers":284,"Stayers":42,"Total":650}],
"Ansible_Original":[
{"t":2013.08,"Leavers":38,"Newcomers":96,"Stayers":27,"Total":160},
{"t":2013.2,"Leavers":60,"Newcomers":128,"Stayers":26,"Total":205},
{"t":2013.3,"Leavers":70,"Newcomers":138,"Stayers":28,"Total":235},
{"t":2013.4,"Leavers":66,"Newcomers":165,"Stayers":38,"Total":265},
{"t":2013.5,"Leavers":62,"Newcomers":205,"Stayers":44,"Total":310},
{"t":2013.6,"Leavers":68,"Newcomers":222,"Stayers":54,"Total":345},
{"t":2013.7,"Leavers":90,"Newcomers":222,"Stayers":54,"Total":375},
{"t":2013.8,"Leavers":110,"Newcomers":258,"Stayers":60,"Total":430},
{"t":2013.9,"Leavers":125,"Newcomers":270,"Stayers":74,"Total":490},
{"t":2014,"Leavers":155,"Newcomers":275,"Stayers":78,"Total":525},
{"t":2014.1,"Leavers":185,"Newcomers":275,"Stayers":79,"Total":565},
{"t":2014.2,"Leavers":196,"Newcomers":350,"Stayers":80,"Total":640},
{"t":2014.3,"Leavers":220,"Newcomers":348,"Stayers":84,"Total":670},
{"t":2014.4,"Leavers":245,"Newcomers":342,"Stayers":86,"Total":685},
{"t":2014.5,"Leavers":265,"Newcomers":358,"Stayers":80,"Total":710},
{"t":2014.6,"Leavers":272,"Newcomers":335,"Stayers":78,"Total":705},
{"t":2014.7,"Leavers":330,"Newcomers":280,"Stayers":87,"Total":712},
{"t":2014.8,"Leavers":352,"Newcomers":250,"Stayers":75,"Total":680},
{"t":2014.9,"Leavers":362,"Newcomers":220,"Stayers":70,"Total":650},
{"t":2015,"Leavers":372,"Newcomers":172,"Stayers":64,"Total":610},
{"t":2015.1,"Leavers":370,"Newcomers":155,"Stayers":55,"Total":575},
{"t":2015.19,"Leavers":343,"Newcomers":142,"Stayers":48,"Total":530}],
"Ansible_Codeface":[
{"t":2013.08,"Leavers":46,"Newcomers":107,"Stayers":25,"Total":182},
{"t":2013.2,"Leavers":60,"Newcomers":134,"Stayers":28,"Total":235},
{"t":2013.3,"Leavers":62,"Newcomers":140,"Stayers":30,"Total":258},
{"t":2013.4,"Leavers":60,"Newcomers":165,"Stayers":40,"Total":285},
{"t":2013.5,"Leavers":62,"Newcomers":205,"Stayers":48,"Total":325},
{"t":2013.6,"Leavers":72,"Newcomers":215,"Stayers":55,"Total":350},
{"t":2013.7,"Leavers":100,"Newcomers":218,"Stayers":55,"Total":380},
{"t":2013.8,"Leavers":110,"Newcomers":262,"Stayers":62,"Total":435},
{"t":2013.9,"Leavers":135,"Newcomers":270,"Stayers":75,"Total":495},
{"t":2014,"Leavers":165,"Newcomers":265,"Stayers":78,"Total":515},
{"t":2014.1,"Leavers":190,"Newcomers":282,"Stayers":80,"Total":545},
{"t":2014.2,"Leavers":188,"Newcomers":345,"Stayers":82,"Total":610},
{"t":2014.3,"Leavers":220,"Newcomers":335,"Stayers":86,"Total":645},
{"t":2014.4,"Leavers":245,"Newcomers":328,"Stayers":87,"Total":665},
{"t":2014.5,"Leavers":258,"Newcomers":352,"Stayers":84,"Total":690},
{"t":2014.6,"Leavers":262,"Newcomers":340,"Stayers":88,"Total":695},
{"t":2014.7,"Leavers":335,"Newcomers":282,"Stayers":90,"Total":712},
{"t":2014.8,"Leavers":340,"Newcomers":250,"Stayers":82,"Total":680},
{"t":2014.9,"Leavers":355,"Newcomers":225,"Stayers":72,"Total":652},
{"t":2015,"Leavers":368,"Newcomers":185,"Stayers":68,"Total":625},
{"t":2015.1,"Leavers":368,"Newcomers":170,"Stayers":60,"Total":600},
{"t":2015.19,"Leavers":338,"Newcomers":155,"Stayers":52,"Total":550}],
"Ansible_git2net":[
{"t":2013.08,"Leavers":42,"Newcomers":105,"Stayers":22,"Total":178},
{"t":2013.2,"Leavers":55,"Newcomers":130,"Stayers":25,"Total":225},
{"t":2013.3,"Leavers":60,"Newcomers":138,"Stayers":28,"Total":250},
{"t":2013.4,"Leavers":58,"Newcomers":165,"Stayers":38,"Total":280},
{"t":2013.5,"Leavers":58,"Newcomers":205,"Stayers":45,"Total":320},
{"t":2013.6,"Leavers":65,"Newcomers":212,"Stayers":55,"Total":345},
{"t":2013.7,"Leavers":100,"Newcomers":212,"Stayers":52,"Total":370},
{"t":2013.8,"Leavers":108,"Newcomers":258,"Stayers":60,"Total":430},
{"t":2013.9,"Leavers":135,"Newcomers":265,"Stayers":75,"Total":490},
{"t":2014,"Leavers":160,"Newcomers":260,"Stayers":78,"Total":510},
{"t":2014.1,"Leavers":185,"Newcomers":280,"Stayers":80,"Total":545},
{"t":2014.2,"Leavers":182,"Newcomers":345,"Stayers":82,"Total":610},
{"t":2014.3,"Leavers":225,"Newcomers":335,"Stayers":86,"Total":645},
{"t":2014.4,"Leavers":245,"Newcomers":328,"Stayers":87,"Total":665},
{"t":2014.5,"Leavers":258,"Newcomers":345,"Stayers":82,"Total":685},
{"t":2014.6,"Leavers":262,"Newcomers":335,"Stayers":88,"Total":690},
{"t":2014.7,"Leavers":335,"Newcomers":280,"Stayers":90,"Total":698},
{"t":2014.8,"Leavers":340,"Newcomers":248,"Stayers":82,"Total":665},
{"t":2014.9,"Leavers":345,"Newcomers":222,"Stayers":72,"Total":625},
{"t":2015,"Leavers":355,"Newcomers":180,"Stayers":68,"Total":605},
{"t":2015.1,"Leavers":358,"Newcomers":165,"Stayers":62,"Total":580},
{"t":2015.19,"Leavers":338,"Newcomers":152,"Stayers":52,"Total":545}],
"Ansible_GrimoireLab":[
{"t":2013.08,"Leavers":55,"Newcomers":121,"Stayers":25,"Total":205},
{"t":2013.2,"Leavers":72,"Newcomers":145,"Stayers":25,"Total":250},
{"t":2013.3,"Leavers":82,"Newcomers":155,"Stayers":28,"Total":275},
{"t":2013.4,"Leavers":80,"Newcomers":185,"Stayers":38,"Total":310},
{"t":2013.5,"Leavers":80,"Newcomers":225,"Stayers":42,"Total":350},
{"t":2013.6,"Leavers":90,"Newcomers":240,"Stayers":52,"Total":370},
{"t":2013.7,"Leavers":120,"Newcomers":235,"Stayers":50,"Total":400},
{"t":2013.8,"Leavers":130,"Newcomers":285,"Stayers":58,"Total":460},
{"t":2013.9,"Leavers":160,"Newcomers":290,"Stayers":72,"Total":525},
{"t":2014,"Leavers":190,"Newcomers":285,"Stayers":75,"Total":555},
{"t":2014.1,"Leavers":212,"Newcomers":305,"Stayers":77,"Total":590},
{"t":2014.2,"Leavers":208,"Newcomers":375,"Stayers":78,"Total":660},
{"t":2014.3,"Leavers":255,"Newcomers":365,"Stayers":80,"Total":700},
{"t":2014.4,"Leavers":270,"Newcomers":355,"Stayers":80,"Total":710},
{"t":2014.5,"Leavers":285,"Newcomers":375,"Stayers":76,"Total":730},
{"t":2014.6,"Leavers":290,"Newcomers":360,"Stayers":80,"Total":735},
{"t":2014.7,"Leavers":365,"Newcomers":300,"Stayers":85,"Total":755},
{"t":2014.8,"Leavers":362,"Newcomers":270,"Stayers":78,"Total":720},
{"t":2014.9,"Leavers":365,"Newcomers":240,"Stayers":72,"Total":680},
{"t":2015,"Leavers":375,"Newcomers":200,"Stayers":70,"Total":655},
{"t":2015.1,"Leavers":385,"Newcomers":180,"Stayers":65,"Total":625},
{"t":2015.19,"Leavers":360,"Newcomers":162,"Stayers":50,"Total":575}],
"Ansible_Kaiaulu":[
{"t":2013.08,"Leavers":45,"Newcomers":108,"Stayers":22,"Total":178},
{"t":2013.2,"Leavers":58,"Newcomers":132,"Stayers":25,"Total":222},
{"t":2013.3,"Leavers":62,"Newcomers":140,"Stayers":28,"Total":250},
{"t":2013.4,"Leavers":60,"Newcomers":168,"Stayers":38,"Total":282},
{"t":2013.5,"Leavers":60,"Newcomers":208,"Stayers":45,"Total":320},
{"t":2013.6,"Leavers":68,"Newcomers":215,"Stayers":55,"Total":345},
{"t":2013.7,"Leavers":102,"Newcomers":213,"Stayers":52,"Total":372},
{"t":2013.8,"Leavers":110,"Newcomers":260,"Stayers":60,"Total":432},
{"t":2013.9,"Leavers":138,"Newcomers":268,"Stayers":75,"Total":492},
{"t":2014,"Leavers":162,"Newcomers":262,"Stayers":78,"Total":512},
{"t":2014.1,"Leavers":186,"Newcomers":282,"Stayers":80,"Total":548},
{"t":2014.2,"Leavers":184,"Newcomers":345,"Stayers":82,"Total":612},
{"t":2014.3,"Leavers":228,"Newcomers":336,"Stayers":86,"Total":645},
{"t":2014.4,"Leavers":248,"Newcomers":330,"Stayers":86,"Total":665},
{"t":2014.5,"Leavers":260,"Newcomers":348,"Stayers":82,"Total":688},
{"t":2014.6,"Leavers":262,"Newcomers":338,"Stayers":88,"Total":692},
{"t":2014.7,"Leavers":335,"Newcomers":282,"Stayers":92,"Total":705},
{"t":2014.8,"Leavers":342,"Newcomers":250,"Stayers":84,"Total":668},
{"t":2014.9,"Leavers":345,"Newcomers":225,"Stayers":72,"Total":628},
{"t":2015,"Leavers":358,"Newcomers":182,"Stayers":68,"Total":608},
{"t":2015.1,"Leavers":362,"Newcomers":168,"Stayers":62,"Total":582},
{"t":2015.19,"Leavers":340,"Newcomers":152,"Stayers":52,"Total":547}],
"Jenkins_Original":[
{"t":2011.85,"Leavers":42,"Newcomers":56,"Stayers":25,"Total":124},
{"t":2012,"Leavers":68,"Newcomers":46,"Stayers":23,"Total":139},
{"t":2012.125,"Leavers":58,"Newcomers":50,"Stayers":24,"Total":135},
{"t":2012.25,"Leavers":53,"Newcomers":48,"Stayers":23,"Total":130},
{"t":2012.375,"Leavers":56,"Newcomers":51,"Stayers":25,"Total":131},
{"t":2012.5,"Leavers":46,"Newcomers":48,"Stayers":27,"Total":118},
{"t":2012.625,"Leavers":49,"Newcomers":52,"Stayers":20,"Total":126},
{"t":2012.75,"Leavers":46,"Newcomers":47,"Stayers":22,"Total":121},
{"t":2012.875,"Leavers":55,"Newcomers":45,"Stayers":23,"Total":122},
{"t":2013,"Leavers":52,"Newcomers":44,"Stayers":24,"Total":117},
{"t":2013.125,"Leavers":49,"Newcomers":48,"Stayers":24,"Total":124},
{"t":2013.25,"Leavers":55,"Newcomers":54,"Stayers":25,"Total":128},
{"t":2013.375,"Leavers":44,"Newcomers":52,"Stayers":22,"Total":119},
{"t":2013.5,"Leavers":46,"Newcomers":56,"Stayers":21,"Total":123},
{"t":2013.625,"Leavers":40,"Newcomers":54,"Stayers":26,"Total":122},
{"t":2013.75,"Leavers":52,"Newcomers":54,"Stayers":24,"Total":130},
{"t":2013.875,"Leavers":48,"Newcomers":63,"Stayers":25,"Total":140},
{"t":2014,"Leavers":54,"Newcomers":67,"Stayers":27,"Total":144},
{"t":2014.125,"Leavers":51,"Newcomers":59,"Stayers":28,"Total":139},
{"t":2014.25,"Leavers":52,"Newcomers":52,"Stayers":24,"Total":132},
{"t":2014.375,"Leavers":67,"Newcomers":44,"Stayers":25,"Total":137},
{"t":2014.5,"Leavers":69,"Newcomers":37,"Stayers":23,"Total":131},
{"t":2014.625,"Leavers":62,"Newcomers":35,"Stayers":24,"Total":122},
{"t":2014.75,"Leavers":54,"Newcomers":38,"Stayers":25,"Total":118},
{"t":2014.875,"Leavers":49,"Newcomers":40,"Stayers":20,"Total":109},
{"t":2015,"Leavers":41,"Newcomers":38,"Stayers":21,"Total":101},
{"t":2015.05,"Leavers":40,"Newcomers":38,"Stayers":21,"Total":101}],
"Jenkins_Codeface":[
{"t":2011.85,"Leavers":42,"Newcomers":46,"Stayers":27,"Total":117},
{"t":2012,"Leavers":62,"Newcomers":38,"Stayers":24,"Total":130},
{"t":2012.125,"Leavers":55,"Newcomers":48,"Stayers":23,"Total":126},
{"t":2012.25,"Leavers":48,"Newcomers":52,"Stayers":22,"Total":125},
{"t":2012.375,"Leavers":54,"Newcomers":55,"Stayers":22,"Total":128},
{"t":2012.5,"Leavers":39,"Newcomers":48,"Stayers":25,"Total":113},
{"t":2012.625,"Leavers":52,"Newcomers":50,"Stayers":22,"Total":123},
{"t":2012.75,"Leavers":45,"Newcomers":46,"Stayers":22,"Total":119},
{"t":2012.875,"Leavers":52,"Newcomers":48,"Stayers":22,"Total":116},
{"t":2013,"Leavers":45,"Newcomers":45,"Stayers":23,"Total":121},
{"t":2013.125,"Leavers":48,"Newcomers":50,"Stayers":24,"Total":118},
{"t":2013.25,"Leavers":50,"Newcomers":50,"Stayers":22,"Total":125},
{"t":2013.375,"Leavers":44,"Newcomers":48,"Stayers":23,"Total":115},
{"t":2013.5,"Leavers":38,"Newcomers":50,"Stayers":21,"Total":118},
{"t":2013.625,"Leavers":46,"Newcomers":48,"Stayers":22,"Total":119},
{"t":2013.75,"Leavers":50,"Newcomers":46,"Stayers":23,"Total":127},
{"t":2013.875,"Leavers":53,"Newcomers":58,"Stayers":22,"Total":133},
{"t":2014,"Leavers":50,"Newcomers":62,"Stayers":21,"Total":135},
{"t":2014.125,"Leavers":53,"Newcomers":56,"Stayers":23,"Total":130},
{"t":2014.25,"Leavers":48,"Newcomers":50,"Stayers":23,"Total":122},
{"t":2014.375,"Leavers":63,"Newcomers":42,"Stayers":22,"Total":126},
{"t":2014.5,"Leavers":61,"Newcomers":38,"Stayers":21,"Total":122},
{"t":2014.625,"Leavers":56,"Newcomers":35,"Stayers":23,"Total":116},
{"t":2014.75,"Leavers":50,"Newcomers":36,"Stayers":23,"Total":110},
{"t":2014.875,"Leavers":45,"Newcomers":38,"Stayers":21,"Total":105},
{"t":2015,"Leavers":41,"Newcomers":38,"Stayers":19,"Total":98},
{"t":2015.05,"Leavers":41,"Newcomers":40,"Stayers":20,"Total":102}],
"Jenkins_git2net":[
{"t":2011.85,"Leavers":44,"Newcomers":47,"Stayers":28,"Total":117},
{"t":2012,"Leavers":64,"Newcomers":40,"Stayers":24,"Total":128},
{"t":2012.125,"Leavers":56,"Newcomers":50,"Stayers":25,"Total":125},
{"t":2012.25,"Leavers":52,"Newcomers":48,"Stayers":24,"Total":124},
{"t":2012.375,"Leavers":55,"Newcomers":54,"Stayers":25,"Total":127},
{"t":2012.5,"Leavers":40,"Newcomers":50,"Stayers":28,"Total":113},
{"t":2012.625,"Leavers":52,"Newcomers":49,"Stayers":23,"Total":122},
{"t":2012.75,"Leavers":46,"Newcomers":48,"Stayers":24,"Total":118},
{"t":2012.875,"Leavers":54,"Newcomers":47,"Stayers":24,"Total":118},
{"t":2013,"Leavers":46,"Newcomers":47,"Stayers":24,"Total":120},
{"t":2013.125,"Leavers":49,"Newcomers":50,"Stayers":24,"Total":118},
{"t":2013.25,"Leavers":50,"Newcomers":49,"Stayers":23,"Total":124},
{"t":2013.375,"Leavers":44,"Newcomers":48,"Stayers":26,"Total":114},
{"t":2013.5,"Leavers":40,"Newcomers":50,"Stayers":25,"Total":117},
{"t":2013.625,"Leavers":47,"Newcomers":49,"Stayers":24,"Total":119},
{"t":2013.75,"Leavers":48,"Newcomers":49,"Stayers":24,"Total":126},
{"t":2013.875,"Leavers":51,"Newcomers":62,"Stayers":23,"Total":131},
{"t":2014,"Leavers":49,"Newcomers":64,"Stayers":22,"Total":135},
{"t":2014.125,"Leavers":52,"Newcomers":58,"Stayers":25,"Total":130},
{"t":2014.25,"Leavers":50,"Newcomers":52,"Stayers":24,"Total":124},
{"t":2014.375,"Leavers":65,"Newcomers":40,"Stayers":24,"Total":126},
{"t":2014.5,"Leavers":62,"Newcomers":38,"Stayers":23,"Total":121},
{"t":2014.625,"Leavers":57,"Newcomers":36,"Stayers":24,"Total":116},
{"t":2014.75,"Leavers":51,"Newcomers":38,"Stayers":23,"Total":111},
{"t":2014.875,"Leavers":45,"Newcomers":40,"Stayers":21,"Total":106},
{"t":2015,"Leavers":43,"Newcomers":40,"Stayers":20,"Total":102},
{"t":2015.05,"Leavers":43,"Newcomers":42,"Stayers":21,"Total":104}],
"Jenkins_GrimoireLab":[
{"t":2011.85,"Leavers":50,"Newcomers":59,"Stayers":25,"Total":134},
{"t":2012,"Leavers":72,"Newcomers":48,"Stayers":24,"Total":145},
{"t":2012.125,"Leavers":65,"Newcomers":52,"Stayers":26,"Total":139},
{"t":2012.25,"Leavers":62,"Newcomers":50,"Stayers":25,"Total":138},
{"t":2012.375,"Leavers":57,"Newcomers":55,"Stayers":27,"Total":141},
{"t":2012.5,"Leavers":45,"Newcomers":54,"Stayers":29,"Total":124},
{"t":2012.625,"Leavers":55,"Newcomers":53,"Stayers":23,"Total":131},
{"t":2012.75,"Leavers":50,"Newcomers":51,"Stayers":22,"Total":127},
{"t":2012.875,"Leavers":59,"Newcomers":52,"Stayers":22,"Total":130},
{"t":2013,"Leavers":53,"Newcomers":55,"Stayers":23,"Total":129},
{"t":2013.125,"Leavers":59,"Newcomers":59,"Stayers":24,"Total":134},
{"t":2013.25,"Leavers":53,"Newcomers":60,"Stayers":24,"Total":141},
{"t":2013.375,"Leavers":50,"Newcomers":60,"Stayers":27,"Total":134},
{"t":2013.5,"Leavers":47,"Newcomers":63,"Stayers":26,"Total":132},
{"t":2013.625,"Leavers":55,"Newcomers":62,"Stayers":27,"Total":134},
{"t":2013.75,"Leavers":55,"Newcomers":60,"Stayers":25,"Total":139},
{"t":2013.875,"Leavers":59,"Newcomers":69,"Stayers":27,"Total":148},
{"t":2014,"Leavers":60,"Newcomers":75,"Stayers":28,"Total":160},
{"t":2014.125,"Leavers":57,"Newcomers":67,"Stayers":29,"Total":153},
{"t":2014.25,"Leavers":59,"Newcomers":60,"Stayers":32,"Total":146},
{"t":2014.375,"Leavers":72,"Newcomers":48,"Stayers":30,"Total":150},
{"t":2014.5,"Leavers":74,"Newcomers":45,"Stayers":29,"Total":148},
{"t":2014.625,"Leavers":69,"Newcomers":44,"Stayers":27,"Total":143},
{"t":2014.75,"Leavers":64,"Newcomers":43,"Stayers":26,"Total":134},
{"t":2014.875,"Leavers":55,"Newcomers":42,"Stayers":24,"Total":126},
{"t":2015,"Leavers":47,"Newcomers":41,"Stayers":24,"Total":116},
{"t":2015.05,"Leavers":50,"Newcomers":41,"Stayers":24,"Total":118}],
"Jenkins_Kaiaulu":[
{"t":2011.85,"Leavers":46,"Newcomers":49,"Stayers":27,"Total":119},
{"t":2012,"Leavers":66,"Newcomers":42,"Stayers":24,"Total":130},
{"t":2012.125,"Leavers":57,"Newcomers":48,"Stayers":25,"Total":127},
{"t":2012.25,"Leavers":53,"Newcomers":50,"Stayers":24,"Total":125},
{"t":2012.375,"Leavers":55,"Newcomers":54,"Stayers":26,"Total":127},
{"t":2012.5,"Leavers":40,"Newcomers":50,"Stayers":27,"Total":114},
{"t":2012.625,"Leavers":52,"Newcomers":50,"Stayers":23,"Total":123},
{"t":2012.75,"Leavers":46,"Newcomers":48,"Stayers":24,"Total":119},
{"t":2012.875,"Leavers":52,"Newcomers":48,"Stayers":24,"Total":118},
{"t":2013,"Leavers":47,"Newcomers":47,"Stayers":24,"Total":120},
{"t":2013.125,"Leavers":49,"Newcomers":50,"Stayers":24,"Total":119},
{"t":2013.25,"Leavers":50,"Newcomers":49,"Stayers":23,"Total":125},
{"t":2013.375,"Leavers":45,"Newcomers":48,"Stayers":26,"Total":116},
{"t":2013.5,"Leavers":40,"Newcomers":50,"Stayers":24,"Total":118},
{"t":2013.625,"Leavers":47,"Newcomers":49,"Stayers":24,"Total":120},
{"t":2013.75,"Leavers":48,"Newcomers":49,"Stayers":24,"Total":126},
{"t":2013.875,"Leavers":51,"Newcomers":62,"Stayers":23,"Total":132},
{"t":2014,"Leavers":49,"Newcomers":65,"Stayers":22,"Total":136},
{"t":2014.125,"Leavers":52,"Newcomers":58,"Stayers":25,"Total":130},
{"t":2014.25,"Leavers":50,"Newcomers":52,"Stayers":24,"Total":125},
{"t":2014.375,"Leavers":65,"Newcomers":42,"Stayers":24,"Total":127},
{"t":2014.5,"Leavers":63,"Newcomers":38,"Stayers":23,"Total":122},
{"t":2014.625,"Leavers":57,"Newcomers":37,"Stayers":24,"Total":116},
{"t":2014.75,"Leavers":52,"Newcomers":39,"Stayers":23,"Total":111},
{"t":2014.875,"Leavers":46,"Newcomers":40,"Stayers":21,"Total":106},
{"t":2015,"Leavers":43,"Newcomers":41,"Stayers":20,"Total":101},
{"t":2015.05,"Leavers":44,"Newcomers":43,"Stayers":21,"Total":104}],
"JQuery_Original":[
{"t":2010.9,"Leavers":20,"Newcomers":21,"Stayers":13,"Total":54},
{"t":2011,"Leavers":18,"Newcomers":29,"Stayers":12,"Total":55},
{"t":2011.1,"Leavers":14,"Newcomers":35,"Stayers":10,"Total":56},
{"t":2011.2,"Leavers":9,"Newcomers":41,"Stayers":9,"Total":59},
{"t":2011.3,"Leavers":12,"Newcomers":38,"Stayers":14,"Total":65},
{"t":2011.4,"Leavers":20,"Newcomers":36,"Stayers":16,"Total":71},
{"t":2011.5,"Leavers":24,"Newcomers":37,"Stayers":15,"Total":75},
{"t":2011.6,"Leavers":33,"Newcomers":34,"Stayers":14,"Total":76},
{"t":2011.7,"Leavers":38,"Newcomers":27,"Stayers":13,"Total":74},
{"t":2011.8,"Leavers":41,"Newcomers":20,"Stayers":12,"Total":68},
{"t":2011.9,"Leavers":42,"Newcomers":15,"Stayers":11,"Total":65},
{"t":2012,"Leavers":43,"Newcomers":12,"Stayers":10,"Total":66},
{"t":2012.1,"Leavers":37,"Newcomers":12,"Stayers":10,"Total":59},
{"t":2012.2,"Leavers":31,"Newcomers":15,"Stayers":10,"Total":55},
{"t":2012.3,"Leavers":18,"Newcomers":20,"Stayers":9,"Total":46},
{"t":2012.4,"Leavers":13,"Newcomers":21,"Stayers":9,"Total":45},
{"t":2012.5,"Leavers":11,"Newcomers":23,"Stayers":10,"Total":49},
{"t":2012.6,"Leavers":11,"Newcomers":30,"Stayers":10,"Total":53},
{"t":2012.7,"Leavers":13,"Newcomers":32,"Stayers":12,"Total":58},
{"t":2012.8,"Leavers":16,"Newcomers":45,"Stayers":12,"Total":76},
{"t":2012.9,"Leavers":22,"Newcomers":44,"Stayers":13,"Total":77},
{"t":2013,"Leavers":26,"Newcomers":45,"Stayers":14,"Total":82},
{"t":2013.1,"Leavers":31,"Newcomers":47,"Stayers":14,"Total":88},
{"t":2013.2,"Leavers":33,"Newcomers":48,"Stayers":14,"Total":92},
{"t":2013.25,"Leavers":32,"Newcomers":46,"Stayers":14,"Total":87},
{"t":2013.3,"Leavers":45,"Newcomers":35,"Stayers":14,"Total":93},
{"t":2013.4,"Leavers":45,"Newcomers":33,"Stayers":13,"Total":90},
{"t":2013.5,"Leavers":46,"Newcomers":28,"Stayers":13,"Total":86},
{"t":2013.6,"Leavers":47,"Newcomers":23,"Stayers":12,"Total":80},
{"t":2013.7,"Leavers":48,"Newcomers":19,"Stayers":12,"Total":81},
{"t":2013.8,"Leavers":35,"Newcomers":21,"Stayers":12,"Total":68},
{"t":2013.9,"Leavers":31,"Newcomers":20,"Stayers":13,"Total":66},
{"t":2014,"Leavers":27,"Newcomers":20,"Stayers":12,"Total":59},
{"t":2014.1,"Leavers":24,"Newcomers":19,"Stayers":11,"Total":52}],
"JQuery_Codeface":[
{"t":2010.9,"Leavers":12,"Newcomers":21,"Stayers":14,"Total":46},
{"t":2011,"Leavers":11,"Newcomers":28,"Stayers":11,"Total":46},
{"t":2011.1,"Leavers":7,"Newcomers":37,"Stayers":8,"Total":50},
{"t":2011.2,"Leavers":4,"Newcomers":46,"Stayers":5,"Total":54},
{"t":2011.3,"Leavers":11,"Newcomers":40,"Stayers":14,"Total":60},
{"t":2011.4,"Leavers":18,"Newcomers":37,"Stayers":14,"Total":66},
{"t":2011.5,"Leavers":21,"Newcomers":37,"Stayers":19,"Total":72},
{"t":2011.6,"Leavers":31,"Newcomers":34,"Stayers":14,"Total":74},
{"t":2011.7,"Leavers":36,"Newcomers":29,"Stayers":13,"Total":75},
{"t":2011.8,"Leavers":42,"Newcomers":23,"Stayers":12,"Total":64},
{"t":2011.9,"Leavers":41,"Newcomers":13,"Stayers":11,"Total":65},
{"t":2012,"Leavers":43,"Newcomers":13,"Stayers":10,"Total":61},
{"t":2012.1,"Leavers":38,"Newcomers":12,"Stayers":10,"Total":54},
{"t":2012.2,"Leavers":32,"Newcomers":14,"Stayers":10,"Total":51},
{"t":2012.3,"Leavers":17,"Newcomers":23,"Stayers":9,"Total":44},
{"t":2012.4,"Leavers":13,"Newcomers":21,"Stayers":9,"Total":45},
{"t":2012.5,"Leavers":12,"Newcomers":28,"Stayers":10,"Total":47},
{"t":2012.6,"Leavers":12,"Newcomers":30,"Stayers":10,"Total":50},
{"t":2012.7,"Leavers":16,"Newcomers":29,"Stayers":11,"Total":48},
{"t":2012.8,"Leavers":17,"Newcomers":43,"Stayers":11,"Total":69},
{"t":2012.9,"Leavers":21,"Newcomers":42,"Stayers":12,"Total":71},
{"t":2013,"Leavers":26,"Newcomers":43,"Stayers":13,"Total":74},
{"t":2013.1,"Leavers":32,"Newcomers":46,"Stayers":13,"Total":79},
{"t":2013.2,"Leavers":34,"Newcomers":45,"Stayers":13,"Total":89},
{"t":2013.25,"Leavers":36,"Newcomers":44,"Stayers":13,"Total":81},
{"t":2013.3,"Leavers":43,"Newcomers":34,"Stayers":13,"Total":83},
{"t":2013.4,"Leavers":44,"Newcomers":30,"Stayers":12,"Total":81},
{"t":2013.5,"Leavers":44,"Newcomers":26,"Stayers":12,"Total":78},
{"t":2013.6,"Leavers":46,"Newcomers":18,"Stayers":11,"Total":76},
{"t":2013.7,"Leavers":46,"Newcomers":16,"Stayers":12,"Total":74},
{"t":2013.8,"Leavers":31,"Newcomers":19,"Stayers":11,"Total":62},
{"t":2013.9,"Leavers":29,"Newcomers":21,"Stayers":12,"Total":61},
{"t":2014,"Leavers":26,"Newcomers":21,"Stayers":11,"Total":57},
{"t":2014.1,"Leavers":18,"Newcomers":21,"Stayers":10,"Total":49}],
"JQuery_git2net":[
{"t":2010.9,"Leavers":12,"Newcomers":21,"Stayers":13,"Total":46},
{"t":2011,"Leavers":10,"Newcomers":27,"Stayers":11,"Total":46},
{"t":2011.1,"Leavers":7,"Newcomers":36,"Stayers":8,"Total":50},
{"t":2011.2,"Leavers":4,"Newcomers":45,"Stayers":5,"Total":54},
{"t":2011.3,"Leavers":10,"Newcomers":36,"Stayers":14,"Total":58},
{"t":2011.4,"Leavers":19,"Newcomers":34,"Stayers":14,"Total":66},
{"t":2011.5,"Leavers":21,"Newcomers":33,"Stayers":19,"Total":71},
{"t":2011.6,"Leavers":33,"Newcomers":31,"Stayers":14,"Total":72},
{"t":2011.7,"Leavers":37,"Newcomers":25,"Stayers":13,"Total":73},
{"t":2011.8,"Leavers":39,"Newcomers":19,"Stayers":11,"Total":61},
{"t":2011.9,"Leavers":38,"Newcomers":14,"Stayers":10,"Total":63},
{"t":2012,"Leavers":40,"Newcomers":14,"Stayers":9,"Total":61},
{"t":2012.1,"Leavers":36,"Newcomers":12,"Stayers":9,"Total":53},
{"t":2012.2,"Leavers":30,"Newcomers":15,"Stayers":9,"Total":51},
{"t":2012.3,"Leavers":17,"Newcomers":22,"Stayers":9,"Total":44},
{"t":2012.4,"Leavers":12,"Newcomers":22,"Stayers":9,"Total":45},
{"t":2012.5,"Leavers":10,"Newcomers":27,"Stayers":10,"Total":47},
{"t":2012.6,"Leavers":10,"Newcomers":30,"Stayers":10,"Total":50},
{"t":2012.7,"Leavers":15,"Newcomers":28,"Stayers":12,"Total":52},
{"t":2012.8,"Leavers":18,"Newcomers":43,"Stayers":12,"Total":73},
{"t":2012.9,"Leavers":22,"Newcomers":40,"Stayers":13,"Total":72},
{"t":2013,"Leavers":27,"Newcomers":41,"Stayers":13,"Total":77},
{"t":2013.1,"Leavers":30,"Newcomers":45,"Stayers":14,"Total":82},
{"t":2013.2,"Leavers":32,"Newcomers":45,"Stayers":13,"Total":89},
{"t":2013.25,"Leavers":33,"Newcomers":44,"Stayers":13,"Total":80},
{"t":2013.3,"Leavers":43,"Newcomers":30,"Stayers":12,"Total":82},
{"t":2013.4,"Leavers":44,"Newcomers":28,"Stayers":12,"Total":78},
{"t":2013.5,"Leavers":44,"Newcomers":24,"Stayers":12,"Total":74},
{"t":2013.6,"Leavers":46,"Newcomers":18,"Stayers":11,"Total":73},
{"t":2013.7,"Leavers":47,"Newcomers":15,"Stayers":11,"Total":72},
{"t":2013.8,"Leavers":30,"Newcomers":18,"Stayers":11,"Total":58},
{"t":2013.9,"Leavers":27,"Newcomers":21,"Stayers":11,"Total":58},
{"t":2014,"Leavers":25,"Newcomers":21,"Stayers":11,"Total":56},
{"t":2014.1,"Leavers":16,"Newcomers":21,"Stayers":10,"Total":48}],
"JQuery_GrimoireLab":[
{"t":2010.9,"Leavers":12,"Newcomers":21,"Stayers":14,"Total":47},
{"t":2011,"Leavers":10,"Newcomers":27,"Stayers":11,"Total":46},
{"t":2011.1,"Leavers":7,"Newcomers":36,"Stayers":8,"Total":50},
{"t":2011.2,"Leavers":4,"Newcomers":45,"Stayers":5,"Total":54},
{"t":2011.3,"Leavers":10,"Newcomers":35,"Stayers":15,"Total":59},
{"t":2011.4,"Leavers":19,"Newcomers":33,"Stayers":15,"Total":66},
{"t":2011.5,"Leavers":22,"Newcomers":33,"Stayers":19,"Total":70},
{"t":2011.6,"Leavers":33,"Newcomers":30,"Stayers":15,"Total":72},
{"t":2011.7,"Leavers":37,"Newcomers":25,"Stayers":14,"Total":73},
{"t":2011.8,"Leavers":39,"Newcomers":19,"Stayers":12,"Total":62},
{"t":2011.9,"Leavers":38,"Newcomers":13,"Stayers":11,"Total":63},
{"t":2012,"Leavers":40,"Newcomers":13,"Stayers":10,"Total":61},
{"t":2012.1,"Leavers":36,"Newcomers":12,"Stayers":10,"Total":54},
{"t":2012.2,"Leavers":30,"Newcomers":15,"Stayers":10,"Total":51},
{"t":2012.3,"Leavers":17,"Newcomers":22,"Stayers":10,"Total":44},
{"t":2012.4,"Leavers":12,"Newcomers":21,"Stayers":10,"Total":46},
{"t":2012.5,"Leavers":10,"Newcomers":27,"Stayers":11,"Total":47},
{"t":2012.6,"Leavers":10,"Newcomers":30,"Stayers":11,"Total":50},
{"t":2012.7,"Leavers":15,"Newcomers":28,"Stayers":12,"Total":53},
{"t":2012.8,"Leavers":18,"Newcomers":43,"Stayers":12,"Total":74},
{"t":2012.9,"Leavers":22,"Newcomers":40,"Stayers":13,"Total":73},
{"t":2013,"Leavers":27,"Newcomers":41,"Stayers":13,"Total":77},
{"t":2013.1,"Leavers":31,"Newcomers":46,"Stayers":14,"Total":82},
{"t":2013.2,"Leavers":33,"Newcomers":46,"Stayers":13,"Total":90},
{"t":2013.25,"Leavers":34,"Newcomers":45,"Stayers":13,"Total":82},
{"t":2013.3,"Leavers":44,"Newcomers":31,"Stayers":13,"Total":84},
{"t":2013.4,"Leavers":44,"Newcomers":29,"Stayers":12,"Total":80},
{"t":2013.5,"Leavers":45,"Newcomers":25,"Stayers":12,"Total":76},
{"t":2013.6,"Leavers":47,"Newcomers":18,"Stayers":11,"Total":75},
{"t":2013.7,"Leavers":47,"Newcomers":17,"Stayers":12,"Total":74},
{"t":2013.8,"Leavers":30,"Newcomers":18,"Stayers":11,"Total":59},
{"t":2013.9,"Leavers":28,"Newcomers":21,"Stayers":12,"Total":60},
{"t":2014,"Leavers":26,"Newcomers":21,"Stayers":11,"Total":56},
{"t":2014.1,"Leavers":18,"Newcomers":21,"Stayers":11,"Total":50}],
"JQuery_Kaiaulu":[
{"t":2010.9,"Leavers":12,"Newcomers":20,"Stayers":14,"Total":46},
{"t":2011,"Leavers":10,"Newcomers":27,"Stayers":11,"Total":46},
{"t":2011.1,"Leavers":7,"Newcomers":37,"Stayers":8,"Total":51},
{"t":2011.2,"Leavers":4,"Newcomers":46,"Stayers":5,"Total":55},
{"t":2011.3,"Leavers":10,"Newcomers":37,"Stayers":14,"Total":60},
{"t":2011.4,"Leavers":19,"Newcomers":35,"Stayers":14,"Total":67},
{"t":2011.5,"Leavers":22,"Newcomers":35,"Stayers":19,"Total":72},
{"t":2011.6,"Leavers":34,"Newcomers":32,"Stayers":14,"Total":73},
{"t":2011.7,"Leavers":38,"Newcomers":26,"Stayers":13,"Total":74},
{"t":2011.8,"Leavers":40,"Newcomers":19,"Stayers":11,"Total":61},
{"t":2011.9,"Leavers":40,"Newcomers":13,"Stayers":10,"Total":63},
{"t":2012,"Leavers":42,"Newcomers":13,"Stayers":10,"Total":62},
{"t":2012.1,"Leavers":36,"Newcomers":12,"Stayers":10,"Total":53},
{"t":2012.2,"Leavers":30,"Newcomers":15,"Stayers":10,"Total":51},
{"t":2012.3,"Leavers":17,"Newcomers":22,"Stayers":9,"Total":44},
{"t":2012.4,"Leavers":12,"Newcomers":22,"Stayers":9,"Total":45},
{"t":2012.5,"Leavers":11,"Newcomers":28,"Stayers":10,"Total":47},
{"t":2012.6,"Leavers":10,"Newcomers":30,"Stayers":10,"Total":51},
{"t":2012.7,"Leavers":15,"Newcomers":28,"Stayers":12,"Total":52},
{"t":2012.8,"Leavers":18,"Newcomers":43,"Stayers":12,"Total":73},
{"t":2012.9,"Leavers":22,"Newcomers":40,"Stayers":13,"Total":72},
{"t":2013,"Leavers":27,"Newcomers":41,"Stayers":13,"Total":77},
{"t":2013.1,"Leavers":31,"Newcomers":46,"Stayers":14,"Total":82},
{"t":2013.2,"Leavers":33,"Newcomers":46,"Stayers":13,"Total":90},
{"t":2013.25,"Leavers":34,"Newcomers":45,"Stayers":13,"Total":81},
{"t":2013.3,"Leavers":44,"Newcomers":30,"Stayers":12,"Total":83},
{"t":2013.4,"Leavers":44,"Newcomers":28,"Stayers":12,"Total":79},
{"t":2013.5,"Leavers":46,"Newcomers":24,"Stayers":12,"Total":75},
{"t":2013.6,"Leavers":47,"Newcomers":17,"Stayers":11,"Total":74},
{"t":2013.7,"Leavers":48,"Newcomers":15,"Stayers":11,"Total":73},
{"t":2013.8,"Leavers":30,"Newcomers":18,"Stayers":11,"Total":57},
{"t":2013.9,"Leavers":27,"Newcomers":21,"Stayers":11,"Total":58},
{"t":2014,"Leavers":25,"Newcomers":21,"Stayers":11,"Total":55},
{"t":2014.1,"Leavers":17,"Newcomers":21,"Stayers":10,"Total":49}],
"Rails_Original":[
{"t":2009.2,"Leavers":90,"Newcomers":198,"Stayers":57,"Total":335},
{"t":2009.4,"Leavers":150,"Newcomers":195,"Stayers":76,"Total":420},
{"t":2009.6,"Leavers":185,"Newcomers":172,"Stayers":65,"Total":440},
{"t":2009.8,"Leavers":220,"Newcomers":134,"Stayers":58,"Total":432},
{"t":2010,"Leavers":228,"Newcomers":115,"Stayers":38,"Total":402},
{"t":2010.2,"Leavers":200,"Newcomers":108,"Stayers":42,"Total":367},
{"t":2010.4,"Leavers":138,"Newcomers":195,"Stayers":50,"Total":362},
{"t":2010.6,"Leavers":105,"Newcomers":228,"Stayers":55,"Total":358},
{"t":2010.8,"Leavers":150,"Newcomers":200,"Stayers":65,"Total":402},
{"t":2011,"Leavers":210,"Newcomers":196,"Stayers":77,"Total":459},
{"t":2011.2,"Leavers":220,"Newcomers":195,"Stayers":75,"Total":478},
{"t":2011.4,"Leavers":214,"Newcomers":249,"Stayers":78,"Total":505},
{"t":2011.6,"Leavers":190,"Newcomers":344,"Stayers":82,"Total":584},
{"t":2011.8,"Leavers":185,"Newcomers":364,"Stayers":100,"Total":632},
{"t":2012,"Leavers":280,"Newcomers":310,"Stayers":110,"Total":699},
{"t":2012.2,"Leavers":335,"Newcomers":325,"Stayers":118,"Total":785},
{"t":2012.4,"Leavers":316,"Newcomers":390,"Stayers":115,"Total":813},
{"t":2012.6,"Leavers":325,"Newcomers":375,"Stayers":105,"Total":794},
{"t":2012.8,"Leavers":383,"Newcomers":310,"Stayers":115,"Total":808},
{"t":2013,"Leavers":404,"Newcomers":335,"Stayers":120,"Total":833},
{"t":2013.2,"Leavers":344,"Newcomers":373,"Stayers":112,"Total":823},
{"t":2013.4,"Leavers":316,"Newcomers":400,"Stayers":110,"Total":808},
{"t":2013.6,"Leavers":335,"Newcomers":354,"Stayers":120,"Total":804},
{"t":2013.8,"Leavers":383,"Newcomers":306,"Stayers":110,"Total":775},
{"t":2014,"Leavers":379,"Newcomers":278,"Stayers":105,"Total":746},
{"t":2014.2,"Leavers":297,"Newcomers":297,"Stayers":105,"Total":708},
{"t":2014.4,"Leavers":287,"Newcomers":316,"Stayers":102,"Total":699},
{"t":2014.6,"Leavers":287,"Newcomers":306,"Stayers":100,"Total":679},
{"t":2014.8,"Leavers":306,"Newcomers":287,"Stayers":98,"Total":689},
{"t":2014.95,"Leavers":306,"Newcomers":239,"Stayers":100,"Total":651}],
"Rails_Codeface":[
{"t":2009.2,"Leavers":165,"Newcomers":169,"Stayers":82,"Total":409},
{"t":2009.4,"Leavers":150,"Newcomers":172,"Stayers":80,"Total":395},
{"t":2009.6,"Leavers":188,"Newcomers":178,"Stayers":70,"Total":430},
{"t":2009.8,"Leavers":205,"Newcomers":158,"Stayers":58,"Total":400},
{"t":2010,"Leavers":212,"Newcomers":125,"Stayers":48,"Total":372},
{"t":2010.2,"Leavers":180,"Newcomers":100,"Stayers":45,"Total":353},
{"t":2010.4,"Leavers":118,"Newcomers":225,"Stayers":48,"Total":365},
{"t":2010.6,"Leavers":137,"Newcomers":228,"Stayers":52,"Total":391},
{"t":2010.8,"Leavers":184,"Newcomers":205,"Stayers":60,"Total":447},
{"t":2011,"Leavers":203,"Newcomers":193,"Stayers":75,"Total":494},
{"t":2011.2,"Leavers":212,"Newcomers":195,"Stayers":78,"Total":522},
{"t":2011.4,"Leavers":203,"Newcomers":259,"Stayers":80,"Total":560},
{"t":2011.6,"Leavers":184,"Newcomers":334,"Stayers":82,"Total":616},
{"t":2011.8,"Leavers":195,"Newcomers":344,"Stayers":95,"Total":654},
{"t":2012,"Leavers":259,"Newcomers":295,"Stayers":108,"Total":729},
{"t":2012.2,"Leavers":306,"Newcomers":310,"Stayers":112,"Total":776},
{"t":2012.4,"Leavers":287,"Newcomers":380,"Stayers":110,"Total":785},
{"t":2012.6,"Leavers":306,"Newcomers":350,"Stayers":100,"Total":785},
{"t":2012.8,"Leavers":353,"Newcomers":290,"Stayers":110,"Total":804},
{"t":2013,"Leavers":362,"Newcomers":320,"Stayers":118,"Total":823},
{"t":2013.2,"Leavers":316,"Newcomers":375,"Stayers":112,"Total":800},
{"t":2013.4,"Leavers":297,"Newcomers":330,"Stayers":105,"Total":789},
{"t":2013.6,"Leavers":325,"Newcomers":287,"Stayers":115,"Total":766},
{"t":2013.8,"Leavers":353,"Newcomers":280,"Stayers":110,"Total":751},
{"t":2014,"Leavers":362,"Newcomers":287,"Stayers":105,"Total":738},
{"t":2014.2,"Leavers":316,"Newcomers":330,"Stayers":102,"Total":725},
{"t":2014.4,"Leavers":287,"Newcomers":325,"Stayers":100,"Total":719},
{"t":2014.6,"Leavers":297,"Newcomers":306,"Stayers":98,"Total":710},
{"t":2014.8,"Leavers":287,"Newcomers":300,"Stayers":100,"Total":714},
{"t":2014.95,"Leavers":334,"Newcomers":278,"Stayers":105,"Total":725}],
"Rails_git2net":[
{"t":2009.2,"Leavers":162,"Newcomers":166,"Stayers":82,"Total":408},
{"t":2009.4,"Leavers":150,"Newcomers":170,"Stayers":80,"Total":395},
{"t":2009.6,"Leavers":185,"Newcomers":176,"Stayers":68,"Total":428},
{"t":2009.8,"Leavers":200,"Newcomers":155,"Stayers":56,"Total":398},
{"t":2010,"Leavers":208,"Newcomers":122,"Stayers":46,"Total":370},
{"t":2010.2,"Leavers":182,"Newcomers":100,"Stayers":45,"Total":350},
{"t":2010.4,"Leavers":125,"Newcomers":222,"Stayers":48,"Total":368},
{"t":2010.6,"Leavers":100,"Newcomers":228,"Stayers":52,"Total":388},
{"t":2010.8,"Leavers":130,"Newcomers":205,"Stayers":60,"Total":445},
{"t":2011,"Leavers":195,"Newcomers":192,"Stayers":75,"Total":490},
{"t":2011.2,"Leavers":205,"Newcomers":196,"Stayers":78,"Total":520},
{"t":2011.4,"Leavers":202,"Newcomers":258,"Stayers":80,"Total":555},
{"t":2011.6,"Leavers":185,"Newcomers":330,"Stayers":82,"Total":612},
{"t":2011.8,"Leavers":192,"Newcomers":340,"Stayers":95,"Total":650},
{"t":2012,"Leavers":258,"Newcomers":290,"Stayers":108,"Total":725},
{"t":2012.2,"Leavers":302,"Newcomers":308,"Stayers":112,"Total":770},
{"t":2012.4,"Leavers":286,"Newcomers":378,"Stayers":110,"Total":780},
{"t":2012.6,"Leavers":302,"Newcomers":345,"Stayers":100,"Total":780},
{"t":2012.8,"Leavers":350,"Newcomers":288,"Stayers":110,"Total":800},
{"t":2013,"Leavers":360,"Newcomers":318,"Stayers":118,"Total":815},
{"t":2013.2,"Leavers":315,"Newcomers":372,"Stayers":112,"Total":795},
{"t":2013.4,"Leavers":296,"Newcomers":328,"Stayers":105,"Total":785},
{"t":2013.6,"Leavers":322,"Newcomers":285,"Stayers":115,"Total":765},
{"t":2013.8,"Leavers":350,"Newcomers":278,"Stayers":110,"Total":748},
{"t":2014,"Leavers":360,"Newcomers":285,"Stayers":105,"Total":735},
{"t":2014.2,"Leavers":315,"Newcomers":328,"Stayers":102,"Total":718},
{"t":2014.4,"Leavers":285,"Newcomers":322,"Stayers":100,"Total":705},
{"t":2014.6,"Leavers":292,"Newcomers":305,"Stayers":96,"Total":702},
{"t":2014.8,"Leavers":285,"Newcomers":298,"Stayers":100,"Total":705},
{"t":2014.95,"Leavers":330,"Newcomers":272,"Stayers":105,"Total":708}],
"Rails_GrimoireLab":[
{"t":2009.2,"Leavers":180,"Newcomers":185,"Stayers":82,"Total":450},
{"t":2009.4,"Leavers":168,"Newcomers":190,"Stayers":80,"Total":440},
{"t":2009.6,"Leavers":210,"Newcomers":195,"Stayers":70,"Total":465},
{"t":2009.8,"Leavers":222,"Newcomers":172,"Stayers":58,"Total":440},
{"t":2010,"Leavers":232,"Newcomers":140,"Stayers":52,"Total":410},
{"t":2010.2,"Leavers":200,"Newcomers":120,"Stayers":50,"Total":395},
{"t":2010.4,"Leavers":140,"Newcomers":250,"Stayers":55,"Total":415},
{"t":2010.6,"Leavers":118,"Newcomers":255,"Stayers":60,"Total":440},
{"t":2010.8,"Leavers":150,"Newcomers":228,"Stayers":68,"Total":505},
{"t":2011,"Leavers":218,"Newcomers":215,"Stayers":80,"Total":545},
{"t":2011.2,"Leavers":228,"Newcomers":218,"Stayers":85,"Total":575},
{"t":2011.4,"Leavers":220,"Newcomers":290,"Stayers":88,"Total":615},
{"t":2011.6,"Leavers":205,"Newcomers":370,"Stayers":92,"Total":680},
{"t":2011.8,"Leavers":215,"Newcomers":390,"Stayers":105,"Total":720},
{"t":2012,"Leavers":290,"Newcomers":320,"Stayers":118,"Total":800},
{"t":2012.2,"Leavers":345,"Newcomers":345,"Stayers":122,"Total":860},
{"t":2012.4,"Leavers":330,"Newcomers":430,"Stayers":118,"Total":878},
{"t":2012.6,"Leavers":345,"Newcomers":400,"Stayers":112,"Total":870},
{"t":2012.8,"Leavers":410,"Newcomers":325,"Stayers":122,"Total":880},
{"t":2013,"Leavers":425,"Newcomers":360,"Stayers":128,"Total":910},
{"t":2013.2,"Leavers":365,"Newcomers":432,"Stayers":120,"Total":890},
{"t":2013.4,"Leavers":345,"Newcomers":380,"Stayers":112,"Total":880},
{"t":2013.6,"Leavers":385,"Newcomers":320,"Stayers":118,"Total":855},
{"t":2013.8,"Leavers":420,"Newcomers":310,"Stayers":112,"Total":840},
{"t":2014,"Leavers":432,"Newcomers":305,"Stayers":108,"Total":800},
{"t":2014.2,"Leavers":365,"Newcomers":345,"Stayers":110,"Total":765},
{"t":2014.4,"Leavers":320,"Newcomers":345,"Stayers":110,"Total":765},
{"t":2014.6,"Leavers":300,"Newcomers":325,"Stayers":106,"Total":762},
{"t":2014.8,"Leavers":310,"Newcomers":315,"Stayers":110,"Total":770},
{"t":2014.95,"Leavers":350,"Newcomers":305,"Stayers":112,"Total":775}],
"Rails_Kaiaulu":[
{"t":2009.2,"Leavers":162,"Newcomers":165,"Stayers":82,"Total":410},
{"t":2009.4,"Leavers":150,"Newcomers":170,"Stayers":80,"Total":398},
{"t":2009.6,"Leavers":185,"Newcomers":176,"Stayers":68,"Total":430},
{"t":2009.8,"Leavers":200,"Newcomers":152,"Stayers":56,"Total":400},
{"t":2010,"Leavers":208,"Newcomers":125,"Stayers":46,"Total":372},
{"t":2010.2,"Leavers":182,"Newcomers":100,"Stayers":45,"Total":348},
{"t":2010.4,"Leavers":125,"Newcomers":222,"Stayers":48,"Total":368},
{"t":2010.6,"Leavers":95,"Newcomers":230,"Stayers":52,"Total":390},
{"t":2010.8,"Leavers":135,"Newcomers":208,"Stayers":60,"Total":448},
{"t":2011,"Leavers":195,"Newcomers":193,"Stayers":75,"Total":492},
{"t":2011.2,"Leavers":205,"Newcomers":196,"Stayers":78,"Total":522},
{"t":2011.4,"Leavers":202,"Newcomers":258,"Stayers":80,"Total":558},
{"t":2011.6,"Leavers":185,"Newcomers":330,"Stayers":82,"Total":615},
{"t":2011.8,"Leavers":192,"Newcomers":342,"Stayers":95,"Total":652},
{"t":2012,"Leavers":258,"Newcomers":292,"Stayers":108,"Total":728},
{"t":2012.2,"Leavers":302,"Newcomers":310,"Stayers":112,"Total":772},
{"t":2012.4,"Leavers":286,"Newcomers":380,"Stayers":110,"Total":782},
{"t":2012.6,"Leavers":302,"Newcomers":348,"Stayers":100,"Total":782},
{"t":2012.8,"Leavers":350,"Newcomers":288,"Stayers":110,"Total":802},
{"t":2013,"Leavers":362,"Newcomers":318,"Stayers":118,"Total":818},
{"t":2013.2,"Leavers":315,"Newcomers":375,"Stayers":112,"Total":798},
{"t":2013.4,"Leavers":296,"Newcomers":330,"Stayers":105,"Total":786},
{"t":2013.6,"Leavers":322,"Newcomers":286,"Stayers":115,"Total":766},
{"t":2013.8,"Leavers":350,"Newcomers":278,"Stayers":110,"Total":750},
{"t":2014,"Leavers":362,"Newcomers":286,"Stayers":105,"Total":736},
{"t":2014.2,"Leavers":315,"Newcomers":330,"Stayers":102,"Total":720},
{"t":2014.4,"Leavers":285,"Newcomers":325,"Stayers":100,"Total":710},
{"t":2014.6,"Leavers":292,"Newcomers":305,"Stayers":96,"Total":706},
{"t":2014.8,"Leavers":285,"Newcomers":298,"Stayers":100,"Total":712},
{"t":2014.95,"Leavers":330,"Newcomers":275,"Stayers":105,"Total":718}]
}
}
